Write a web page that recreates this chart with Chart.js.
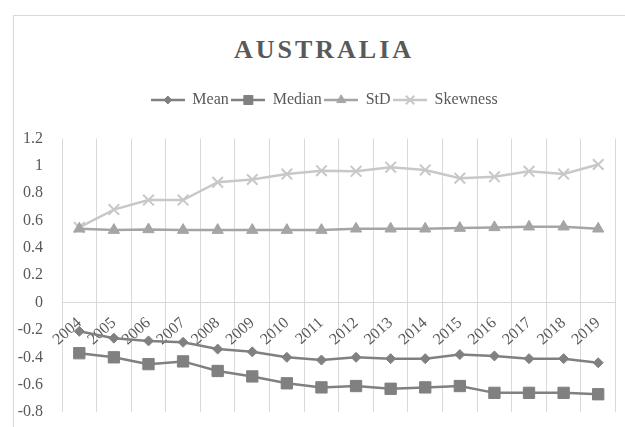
<!DOCTYPE html>
<html>
<head>
<meta charset="utf-8">
<script src="https://cdn.jsdelivr.net/npm/chart.js@4/dist/chart.umd.min.js"></script>
<style>
  html, body { margin: 0; padding: 0; background: #ffffff; overflow: hidden; }
  #stage { position: relative; width: 625px; height: 427px; }
  #frame {
    position: absolute; left: 13px; top: 15px; width: 700px; height: 500px;
    border: 1px solid #d9d9d9; box-sizing: border-box;
  }
  #title {
    position: absolute; left: 0; width: 648px; top: 34px; text-align: center;
    font: bold 26px "Liberation Serif", "Times New Roman", serif;
    letter-spacing: 3px; color: #595959; line-height: 32px;
  }
  #wrap { position: absolute; left: 0; top: 0; width: 625px; height: 427px; }
</style>
</head>
<body>
<div id="stage">
  <div id="frame"></div>
  <div id="title">AUSTRALIA</div>
  <div id="wrap"><canvas id="chart" width="625" height="427"></canvas></div>
</div>
<script>
// Years on the category axis
const years = ['2004', '2005', '2006', '2007', '2008', '2009', '2010', '2011',
               '2012', '2013', '2014', '2015', '2016', '2017', '2018', '2019'];

// Descriptive statistics per year
const meanValues     = [-0.21, -0.26, -0.28, -0.29, -0.34, -0.36, -0.40, -0.42,
                        -0.40, -0.41, -0.41, -0.38, -0.39, -0.41, -0.41, -0.44];
const medianValues   = [-0.37, -0.40, -0.45, -0.43, -0.50, -0.54, -0.59, -0.62,
                        -0.61, -0.63, -0.62, -0.61, -0.66, -0.66, -0.66, -0.67];
const stdValues      = [0.54, 0.53, 0.535, 0.53, 0.53, 0.53, 0.53, 0.53,
                        0.54, 0.54, 0.54, 0.545, 0.55, 0.555, 0.555, 0.54];
const skewnessValues = [0.55, 0.68, 0.75, 0.75, 0.88, 0.90, 0.94, 0.965,
                        0.96, 0.99, 0.97, 0.91, 0.92, 0.96, 0.94, 1.01];

// Value axis ticks
const yTickValues = [-0.8, -0.6, -0.4, -0.2, 0, 0.2, 0.4, 0.6, 0.8, 1, 1.2];

const FONT = '"Liberation Serif", "Times New Roman", serif';
const TEXT = '#595959';
const GRID = '#d9d9d9';

const seriesStyle = [
  { label: 'Mean',     data: meanValues,     color: '#808080', point: 'rectRot',  radius: 5,   pbw: 1 },
  { label: 'Median',   data: medianValues,   color: '#808080', point: 'rect',     radius: 8,   pbw: 1 },
  { label: 'StD',      data: stdValues,      color: '#a5a5a5', point: 'triangle', radius: 6.5, pbw: 1 },
  { label: 'Skewness', data: skewnessValues, color: '#c8c8c8', point: 'crossRot', radius: 7.5, pbw: 2 }
];

// Legend symbol: short line with the series marker in the middle
function legendSymbol(s) {
  const c = document.createElement('canvas');
  c.width = 34; c.height = 16;
  const ctx = c.getContext('2d');
  ctx.strokeStyle = s.color;
  ctx.lineWidth = 2.5;
  ctx.beginPath(); ctx.moveTo(0, 8); ctx.lineTo(34, 8); ctx.stroke();
  ctx.fillStyle = s.color;
  ctx.lineWidth = s.pbw;
  Chart.helpers.drawPoint(ctx, { pointStyle: s.point, radius: s.radius * 0.8, rotation: 0, borderWidth: s.pbw }, 17, 8);
  return c;
}
const symbols = seriesStyle.map(legendSymbol);

// Legend spacing: gap below it and a small horizontal shift
const legendPlacement = {
  id: 'legendPlacement',
  beforeInit(chart) {
    const fit = chart.legend.fit;
    chart.legend.fit = function () {
      fit.call(this);
      this.height += 20.5;
    };
  },
  afterLayout(chart) {
    chart.legend.left += 16;
    chart.legend.right += 16;
  }
};

new Chart(document.getElementById('chart'), {
  type: 'line',
  data: {
    labels: years,
    datasets: seriesStyle.map(s => ({
      label: s.label,
      data: s.data,
      borderColor: s.color,
      backgroundColor: s.color,
      borderWidth: 2.5,
      pointStyle: s.point,
      pointRadius: s.radius,
      pointHoverRadius: s.radius,
      pointBorderWidth: s.pbw,
      pointBackgroundColor: s.color,
      pointBorderColor: s.color,
      tension: 0,
      fill: false
    }))
  },
  options: {
    responsive: false,
    animation: false,
    layout: { padding: { top: 89, right: 8, bottom: 15, left: 0 } },
    plugins: {
      title: { display: false },
      tooltip: { enabled: false },
      legend: {
        position: 'top',
        labels: {
          usePointStyle: true,
          pointStyleWidth: 33,
          padding: 3,
          color: TEXT,
          font: { family: FONT, size: 16 },
          generateLabels(chart) {
            const items = Chart.defaults.plugins.legend.labels.generateLabels(chart);
            items.forEach((it, i) => { it.pointStyle = symbols[i]; });
            return items;
          }
        }
      }
    },
    scales: {
      x: {
        type: 'category',
        position: { y: 0 },
        offset: true,
        grid: { display: true, offset: true, color: GRID, lineWidth: 1, drawTicks: false },
        border: { display: true, color: GRID, width: 1 },
        ticks: {
          color: TEXT,
          font: { family: FONT, size: 16 },
          minRotation: 42,
          maxRotation: 42,
          padding: 11,
          autoSkip: false
        },
        afterFit(scale) { scale.height = 0; }
      },
      y: {
        min: -0.8,
        max: 1.2,
        grid: { display: false },
        border: { display: false },
        afterBuildTicks(scale) { scale.ticks = yTickValues.map(v => ({ value: v })); },
        afterFit(scale) {
          scale.width = 62;
          scale.paddingTop = 0;
          scale.paddingBottom = 0;
        },
        ticks: {
          color: TEXT,
          font: { family: FONT, size: 16 },
          padding: 11,
          callback: v => String(Math.round(v * 10) / 10)
        }
      }
    }
  },
  plugins: [legendPlacement]
});
</script>
</body>
</html>
